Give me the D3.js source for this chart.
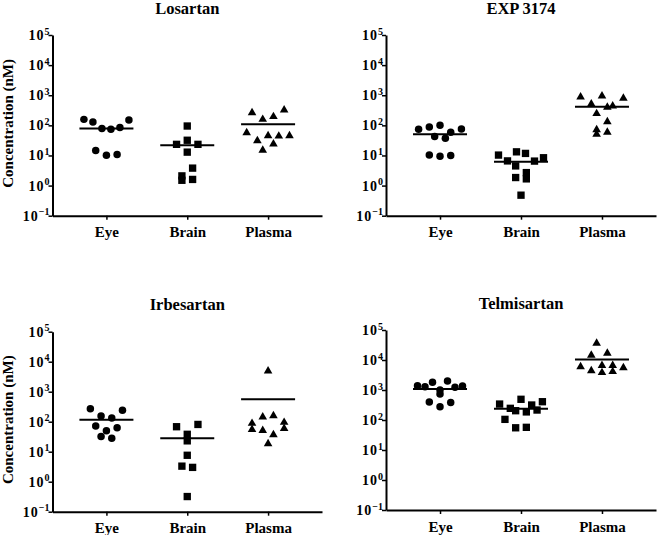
<!DOCTYPE html>
<html>
<head>
<meta charset="utf-8">
<script src="https://cdn.jsdelivr.net/npm/d3@7"></script>
<style>
    body { margin: 0; background: #fff; }
    svg text { font-family: "Liberation Serif", "Times New Roman", serif; font-weight: bold; fill: #000; }
</style>
</head>
<body>
<svg id="chart" width="658" height="535"></svg>
<script>
// categories and titles
var categories = ["Eye", "Brain", "Plasma"];
var drugTitles = ["Losartan", "EXP 3174", "Irbesartan", "Telmisartan"];
var decadeTicks = [-1, 0, 1, 2, 3, 4, 5];

// concentrations (nM), listed left to right within each row
var losartanEye = [158, 129, 79, 74, 85, 151, 14.5, 10.2, 10.7];
var losartanBrain = [95, 23.4, 32, 23.4, 12.9, 2.1, 3.8, 1.5, 1.6];
var losartanPlasma = [264, 158, 195, 324, 57, 31, 45, 44, 45, 15, 24];

var expEye = [74, 88, 100, 59, 75, 43, 37, 10.3, 9.5, 10];
var expBrain = [10.3, 6.6, 13.2, 11.7, 6.5, 8.4, 4.5, 2.7, 1.85, 1.67, 0.48];
var expPlasma = [880, 515, 950, 437, 795, 245, 398, 72, 132, 51, 59];

var irbesartanEye = [270, 155, 132, 240, 72, 50, 63, 32, 28];
var irbesartanBrain = [68, 38, 81, 23, 7.6, 3.3, 3.0, 0.32];
var irbesartanPlasma = [4900, 88, 144, 158, 95, 55, 51, 37, 59, 18.5];

var telmisartanEye = [1380, 1290, 1820, 1000, 2000, 1230, 1350, 400, 740, 380, 277];
var telmisartanBrain = [340, 245, 490, 316, 407, 105, 204, 186, 215, 55, 57];
var telmisartanPlasma = [36000, 16700, 14500, 6600, 6000, 4400, 3800, 4100, 5500, 6600];

var panelData = [
    [losartanEye, losartanBrain, losartanPlasma],
    [expEye, expBrain, expPlasma],
    [irbesartanEye, irbesartanBrain, irbesartanPlasma],
    [telmisartanEye, telmisartanBrain, telmisartanPlasma]
];

// plot areas of the four panels
var panelBoxes = [
    { left: 52.5, right: 322, top: 35, bottom: 215.7 },
    { left: 386, right: 656, top: 35, bottom: 215.7 },
    { left: 52.5, right: 322, top: 331.7, bottom: 511.7 },
    { left: 386, right: 656, top: 330, bottom: 510 }
];

var rowGap = 10.5;     // points closer than this in y share a row
var slotWidth = 10.7;  // horizontal spacing inside a row
var rowMaxWidth = 45;
var meanHalfWidth = 27;

var svg = d3.select("#chart");

function swarm(values, y, cx) {
    var items = values.map(function (v, i) { return { v: v, i: i, y: y(v) }; });
    var sorted = items.slice().sort(function (a, b) { return a.y - b.y; });
    var rows = [];
    var cur = null;
    sorted.forEach(function (p) {
        if (!cur || p.y - cur.y0 >= rowGap) {
            cur = { y0: p.y, pts: [] };
            rows.push(cur);
        }
        cur.pts.push(p);
    });
    rows.forEach(function (r) {
        r.pts.sort(function (a, b) { return a.i - b.i; });
        var n = r.pts.length;
        var step = n > 1 ? Math.min(slotWidth, rowMaxWidth / (n - 1)) : 0;
        r.pts.forEach(function (p, k) { p.x = cx + (k - (n - 1) / 2) * step; });
    });
    return items;
}

var symbols = [
    d3.symbol().type(d3.symbolCircle).size(44),
    d3.symbol().type(d3.symbolSquare).size(54),
    d3.symbol().type(d3.symbolTriangle).size(32)
];

panelBoxes.forEach(function (box, pi) {
    var g = svg.append("g").attr("class", "panel");

    var x = d3.scalePoint()
        .domain(categories)
        .range([box.left, box.right])
        .padding(0.667);

    var y = d3.scaleLog()
        .domain([0.1, 1e5])
        .range([box.bottom, box.top]);

    // y axis
    var yAxis = g.append("g")
        .attr("transform", "translate(" + box.left + ",0)")
        .call(d3.axisLeft(y)
            .tickValues(decadeTicks.map(function (e) { return Math.pow(10, e); }))
            .tickSize(4)
            .tickSizeOuter(0)
            .tickFormat(""));
    yAxis.select(".domain").attr("stroke-width", 2);
    yAxis.selectAll(".tick line").attr("stroke-width", 1.5);

    decadeTicks.forEach(function (e) {
        var t = g.append("text")
            .attr("x", box.left - 3)
            .attr("y", y(Math.pow(10, e)) + 5)
            .attr("text-anchor", "end")
            .style("font-size", "14px");
        t.append("tspan").text("10").style("letter-spacing", "1px");
        t.append("tspan")
            .text(e < 0 ? "\u2212" + Math.abs(e) : e)
            .attr("dy", -5.5)
            .style("font-size", "10px");
    });

    // x axis
    var xAxis = g.append("g")
        .attr("transform", "translate(0," + box.bottom + ")")
        .call(d3.axisBottom(x).tickSize(4).tickSizeOuter(0).tickPadding(7));
    xAxis.select(".domain").attr("stroke-width", 2);
    xAxis.selectAll(".tick line").attr("stroke-width", 1.5);
    xAxis.selectAll(".tick text")
        .style("font-size", "15px")
        .style("font-family", "\"Liberation Serif\", \"Times New Roman\", serif")
        .style("font-weight", "bold");

    // title
    g.append("text")
        .attr("x", (box.left + box.right) / 2)
        .attr("y", box.top - 21.5)
        .attr("text-anchor", "middle")
        .style("font-size", "16.5px")
        .text(drugTitles[pi]);

    // y label only on left column
    if (pi % 2 === 0) {
        g.append("text")
            .attr("transform", "translate(13," + ((box.top + box.bottom) / 2 - 2) + ") rotate(-90)")
            .attr("text-anchor", "middle")
            .style("font-size", "15px")
            .text("Concentration (nM)");
    }

    // points and mean lines
    panelData[pi].forEach(function (values, ci) {
        var cx = x(categories[ci]);
        var pts = swarm(values, y, cx);

        g.append("g").selectAll("path")
            .data(pts)
            .enter()
            .append("path")
            .attr("d", symbols[ci])
            .attr("transform", function (d) { return "translate(" + d.x + "," + d.y + ")"; })
            .attr("fill", "#000");

        var m = d3.mean(values);
        g.append("line")
            .attr("x1", cx - meanHalfWidth)
            .attr("x2", cx + meanHalfWidth)
            .attr("y1", y(m))
            .attr("y2", y(m))
            .attr("stroke", "#000")
            .attr("stroke-width", 2);
    });
});
</script>
</body>
</html>
